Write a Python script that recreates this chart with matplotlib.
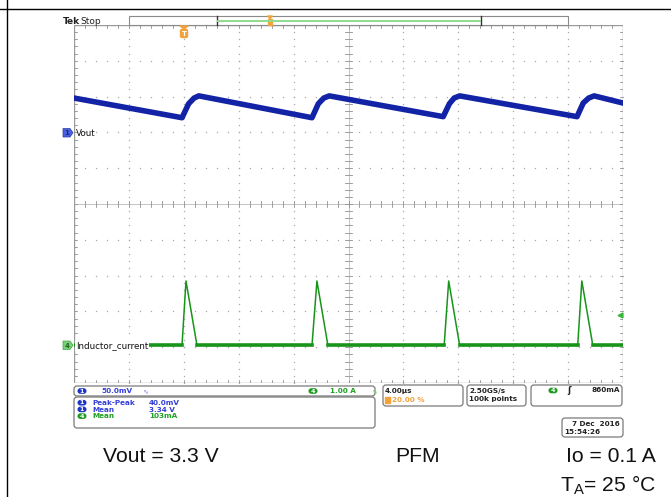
"""Scope capture: buck converter output ripple and inductor current in PFM."""

import matplotlib.pyplot as plt
import numpy as np
from matplotlib.patches import FancyBboxPatch, Rectangle, Polygon

# time axis of the capture (µs), trigger at t = 0, 4 µs/div
T_START, T_STOP = -8.0, 32.0

# channel 1: output voltage (V)
vout_t = [-8.0, -0.13, 0.35, 0.75, 1.1, 9.34, 9.8, 10.2, 10.6, 18.9, 19.35, 19.7, 20.1, 28.65, 29.1, 29.5, 29.9, 32.0]
vout_v = [3.348, 3.3205, 3.340, 3.348, 3.351, 3.3205, 3.340, 3.348, 3.351, 3.322, 3.340, 3.348, 3.351,
          3.322, 3.341, 3.348, 3.351, 3.341]

# channel 4: inductor current (A)
il_t = [-8.0, -0.13, 0.16, 0.96, 9.34, 9.7, 10.5, 18.97, 19.3, 20.1, 28.7, 29.0, 29.8, 32.0]
il_a = [0.0, 0.0, 1.8, 0.0, 0.0, 1.8, 0.0, 0.0, 1.8, 0.0, 0.0, 1.8, 0.0, 0.0]

VOUT_OFFSET = 3.30      # channel 1 marker level, V
VOUT_SCALE = 0.050      # V/div
IL_SCALE = 1.0          # A/div
TRIG_LEVEL = 0.86       # A

measurements = [("1", "Peak-Peak", "40.0mV"), ("1", "Mean", "3.34 V"), ("4", "Mean", "103mA")]
captions = ["Vout = 3.3 V", "PFM", "Io = 0.1 A"]

BLUE_TRACE = "#1223a6"
GREEN_TRACE = "#17951a"
BLUE_TXT = "#3440d8"
GREEN_TXT = "#1f9f22"
ORANGE = "#f2a23a"
GRID = "#a8a8a8"

W, H = 671, 497
L, R, TOP, BOT = 74, 623, 25, 383

fig = plt.figure(figsize=(W / 100, H / 100), dpi=100)
rect = [L / W, 1 - BOT / H, (R - L) / W, (BOT - TOP) / H]

# graticule in division units (10 x 10)
grat = fig.add_axes(rect, zorder=1)
grat.set_xlim(0, 10)
grat.set_ylim(0, 10)
grat.axis("off")
sub = np.arange(0, 10.01, 0.2)
for k in range(1, 10):
    if k == 5:
        continue
    grat.plot(np.full_like(sub, k), sub, ls="none", marker="s", ms=0.9, color=GRID, mew=0)
    grat.plot(sub, np.full_like(sub, k), ls="none", marker="s", ms=0.9, color=GRID, mew=0)
grat.axhline(5, color="#c4c4c4", lw=0.7)
grat.axvline(5, color="#c4c4c4", lw=0.7)
for s in sub[1:-1]:
    grat.plot([s, s], [4.92, 5.08], color="#909090", lw=0.6)
    grat.plot([4.94, 5.06], [s, s], color="#909090", lw=0.6)
    grat.plot([s, s], [0, 0.08], color="#909090", lw=0.6)
    grat.plot([s, s], [9.92, 10], color="#909090", lw=0.6)
    grat.plot([0, 0.05], [s, s], color="#909090", lw=0.6)
    grat.plot([9.95, 10], [s, s], color="#909090", lw=0.6)
grat.add_patch(Rectangle((0, 0), 10, 10, fill=False, ec="#9a9a9a", lw=1.0))

# channel 1 axes: marker level two divisions above centre
vax = fig.add_axes(rect, zorder=2)
vax.patch.set_visible(False)
vax.axis("off")
vax.set_xlim(T_START, T_STOP)
v_center = VOUT_OFFSET - 2 * VOUT_SCALE
vax.set_ylim(v_center - 5 * VOUT_SCALE, v_center + 5 * VOUT_SCALE)
vax.plot(vout_t, vout_v, color=BLUE_TRACE, lw=4.0, solid_joinstyle="round")

# channel 4 axes: zero close to one division above the bottom
iax = fig.add_axes(rect, zorder=3)
iax.patch.set_visible(False)
iax.axis("off")
iax.set_xlim(T_START, T_STOP)
iax.set_ylim(-1.05 * IL_SCALE, 8.95 * IL_SCALE)
il_arr = np.array(il_a)
iax.plot(il_t, il_a, color=GREEN_TRACE, lw=1.1)
iax.plot(il_t, np.ma.masked_where(il_arr > 0.05, il_arr), color=GREEN_TRACE, lw=2.6)
iax.plot([T_STOP - 0.25], [TRIG_LEVEL], marker="<", ms=3.5, color="#39b83c", clip_on=False)

# pixel overlay for the scope annotations and page frame
px = fig.add_axes([0, 0, 1, 1], zorder=10)
px.set_xlim(0, W)
px.set_ylim(H, 0)
px.axis("off")
px.patch.set_visible(False)

px.plot([0, W], [9, 9], color="black", lw=1.0)
px.plot([7, 7], [0, H], color="black", lw=1.0)

f_small = dict(family="DejaVu Sans", fontsize=5.2, fontweight="bold")

# header: status and record bar
px.text(63, 21, "Tek", fontsize=6.5, fontweight="bold", va="center", ha="left", color="#222222")
px.text(80, 21, "Stop", fontsize=6.5, va="center", ha="left", color="#222222")
px.add_patch(Rectangle((129, 16), 568 - 129, 9, fc="white", ec="#8a8a8a", lw=0.8))
px.plot([217, 217], [16, 25], color="#333333", lw=1.0)
px.plot([481, 481], [16, 25], color="#333333", lw=1.0)
px.plot([218, 480], [20.5, 20.5], color="#8fdc8f", lw=1.4)
px.add_patch(Polygon([[267.5, 16], [272.5, 16], [270, 18.5]], closed=True, color=ORANGE))
px.add_patch(Rectangle((268, 18.5), 4, 6, color=ORANGE))

# trigger position marker
px.add_patch(Polygon([[180, 26], [188, 26], [184, 29]], closed=True, color=ORANGE))
px.add_patch(FancyBboxPatch((180.5, 29.5), 7, 8, boxstyle="round,pad=0,rounding_size=1.5", color=ORANGE))
px.text(184, 33.8, "T", fontsize=5, fontweight="bold", color="white", ha="center", va="center")

# channel labels on the graticule
px.add_patch(Polygon([[63, 128.5], [70, 128.5], [73, 132.7], [70, 137], [63, 137]], closed=True,
                     fc="#4a5fe0", ec="#2a3aa8", lw=0.5))
px.text(67, 133, "1", fontsize=5, color="#1a2a8a", ha="center", va="center", fontweight="bold")
px.text(76, 133, "Vout", fontsize=6.3, color="#111111", ha="left", va="center")
px.add_patch(Polygon([[63, 341], [70, 341], [73, 345.2], [70, 349.5], [63, 349.5]], closed=True,
                     fc="#7ccf7c", ec="#3f9f3f", lw=0.5))
px.text(67, 345.5, "4", fontsize=5, color="#1b6b1b", ha="center", va="center", fontweight="bold")
px.text(76, 345.5, "Inductor_current", fontsize=6.3, color="#111111", ha="left", va="center",
        bbox=dict(fc="white", ec="none", pad=0.6))


def box(x0, y0, x1, y1):
    px.add_patch(FancyBboxPatch((x0, y0), x1 - x0, y1 - y0, boxstyle="round,pad=0,rounding_size=3",
                                fc="white", ec="#7a7a7a", lw=0.9))


def tag(x, y, label, color):
    px.add_patch(FancyBboxPatch((x - 4.5, y - 2.8), 9, 5.6, boxstyle="round,pad=0,rounding_size=2.8",
                                fc=color, ec="none"))
    px.text(x, y + 0.2, label, fontsize=4.6, fontweight="bold", color="white", ha="center", va="center")


# vertical settings row
box(74, 386, 375, 396)
tag(82, 391, "1", "#1c35c4")
px.text(101, 391.3, "50.0mV", color=BLUE_TXT, va="center", ha="left", **f_small)
px.text(142, 391, "∿", color="#7a8ae0", va="center", ha="left", fontsize=5)
tag(313, 391, "4", "#1f9a22")
px.text(330, 391.3, "1.00 A", color=GREEN_TXT, va="center", ha="left", **f_small)
px.text(371, 391, "∿", color="#7ccf7c", va="center", ha="left", fontsize=5)

# measurements
box(74, 397, 375, 428)
rows_y = [402.7, 409.4, 416.1]
for (ch, name, val), y in zip(measurements, rows_y):
    c_tag = "#1c35c4" if ch == "1" else "#1f9a22"
    c_txt = BLUE_TXT if ch == "1" else GREEN_TXT
    tag(82, y, ch, c_tag)
    px.text(92, y + 0.3, name, color=c_txt, va="center", ha="left", **f_small)
    px.text(149, y + 0.3, val, color=c_txt, va="center", ha="left", **f_small)

# timebase, acquisition, trigger
box(383, 385, 463, 406)
px.text(385, 390.5, "4.00µs", color="#222222", va="center", ha="left", **f_small)
px.add_patch(Rectangle((385, 396.5), 5, 6, color=ORANGE))
px.text(392, 399.5, "20.00 %", color=ORANGE, va="center", ha="left", **f_small)
box(467, 385, 526, 406)
px.text(469, 390.5, "2.50GS/s", color="#222222", va="center", ha="left", **f_small)
px.text(469, 399.5, "100k points", color="#222222", va="center", ha="left", **f_small)
box(531, 385, 622, 406)
tag(553, 390.5, "4", "#1f9a22")
px.text(569, 390.5, "ʃ", color="#222222", va="center", ha="center", fontsize=6, fontweight="bold")
px.text(620, 390.5, f"{TRIG_LEVEL * 1000:.0f}mA", color="#222222", va="center", ha="right", **f_small)

# capture date
box(562, 418, 623, 437)
px.text(620, 423.5, "7 Dec  2016", color="#222222", va="center", ha="right", **f_small)
px.text(564, 432, "15:54:26", color="#222222", va="center", ha="left", **f_small)

# operating conditions
cap = dict(family="Liberation Sans", fontsize=15.2, color="#111111", va="center")
px.text(103, 456, captions[0], ha="left", **cap)
px.text(418, 456, captions[1], ha="center", **cap)
px.text(656, 457, captions[2], ha="right", **cap)
px.text(656, 485, r"T$_\mathregular{A}$= 25 °C", ha="right", **cap)

fig.savefig("out.png", dpi=100)
